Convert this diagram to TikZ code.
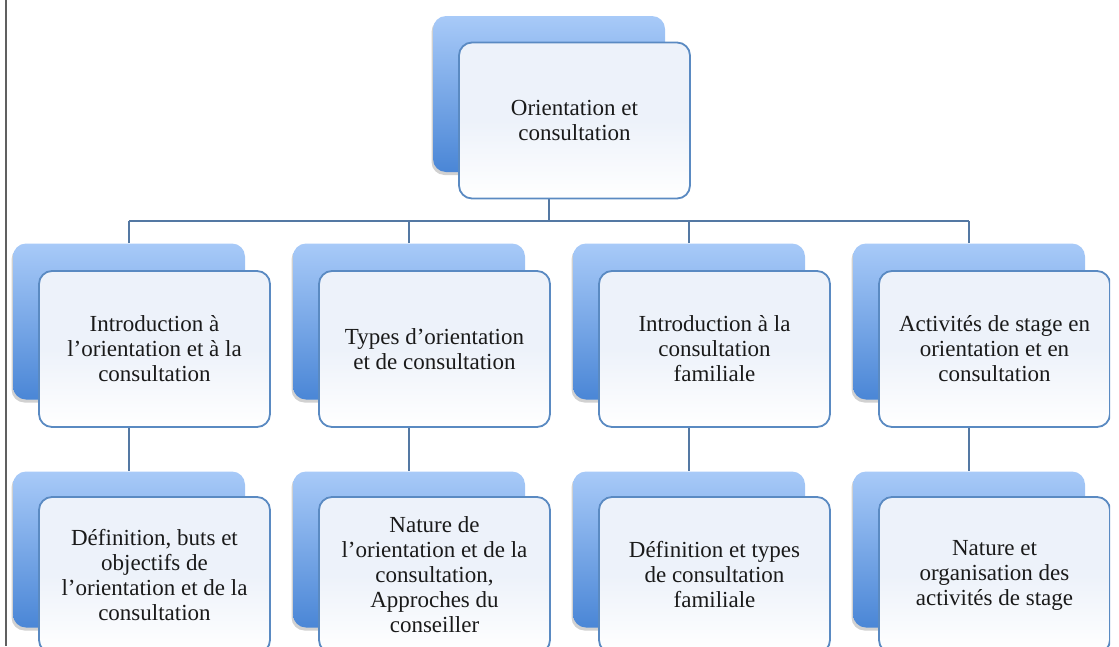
\documentclass[tikz,border=0pt]{standalone}
\usepackage{fontspec}
\setmainfont{Liberation Serif}
\usetikzlibrary{shadows}
\definecolor{backtop}{HTML}{A8CAF8}
\definecolor{backbot}{HTML}{4A86D6}
\definecolor{frontfill}{HTML}{EDF2FA}
\definecolor{frontline}{HTML}{5A8AC2}
\definecolor{conn}{HTML}{5478A3}
\definecolor{txt}{HTML}{1A1A1A}
\definecolor{framec}{HTML}{606060}
\pgfdeclarelayer{bg}
\pgfsetlayers{bg,main}
\tikzset{
 backbox/.style={rectangle, rounded corners=13pt, minimum width=232pt, minimum height=156pt, inner sep=0pt,
   top color=backtop, bottom color=backbot, draw=none,
   drop shadow={shadow xshift=-1.5pt, shadow yshift=-3pt, opacity=0.3, fill=black!60}},
 frontbox/.style={rectangle, rounded corners=13pt, minimum width=231pt, minimum height=156pt, inner sep=0pt,
   top color=frontfill, bottom color=white, middle color=frontfill, draw=frontline, line width=1.8pt,
   align=center, text=txt, font=\fontsize{23}{25}\selectfont},
 connector/.style={draw=conn, line width=2.8pt},
 framestyle/.style={draw=framec, line width=2pt},
}
\begin{document}
\begin{tikzpicture}[x=1pt,y=-1pt]
\useasboundingbox (0,0) rectangle (1119,646);
\draw[framestyle] (5.5,0) -- (5.5,646);
\begin{scope}
\clip (7,0) rectangle (1110,646);
% top
\node[backbox] (tb) at (549,94) {};
\node[frontbox] (tf) at (574.5,120.5) {Orientation et\\consultation};
\coordinate (bus) at (549,221);
% row 2 and row 3
\foreach \i/\ta/\tb in {
  1/{Introduction à\\l'orientation et à la\\consultation}/{Définition, buts et\\objectifs de\\l'orientation et de la\\consultation},
  2/{Types d'orientation\\et de consultation}/{Nature de\\l'orientation et de la\\consultation,\\Approches du\\conseiller},
  3/{Introduction à la\\consultation\\familiale}/{Définition et types\\de consultation\\familiale},
  4/{Activités de stage en\\orientation et en\\consultation}/{Nature et\\organisation des\\activités de stage}}
{
  \node[backbox] (b\i) at ({129+280*(\i-1)},321.5) {};
  \node[frontbox] (f\i) at ({154.5+280*(\i-1)},349) {\ta};
  \node[backbox] (c\i) at ({129+280*(\i-1)},549.5) {};
  \node[frontbox] (g\i) at ({154.5+280*(\i-1)},575) {\tb};
}
\begin{pgfonlayer}{bg}
\draw[connector] (tb.south) -- (bus);
\draw[connector] (b1.north |- bus) -- (b4.north |- bus);
\foreach \i in {1,2,3,4} {
  \draw[connector] (b\i.north) -- (b\i.north |- bus);
  \draw[connector] (b\i.south) -- (c\i.north);
}
\end{pgfonlayer}
\end{scope}
\end{tikzpicture}
\end{document}
